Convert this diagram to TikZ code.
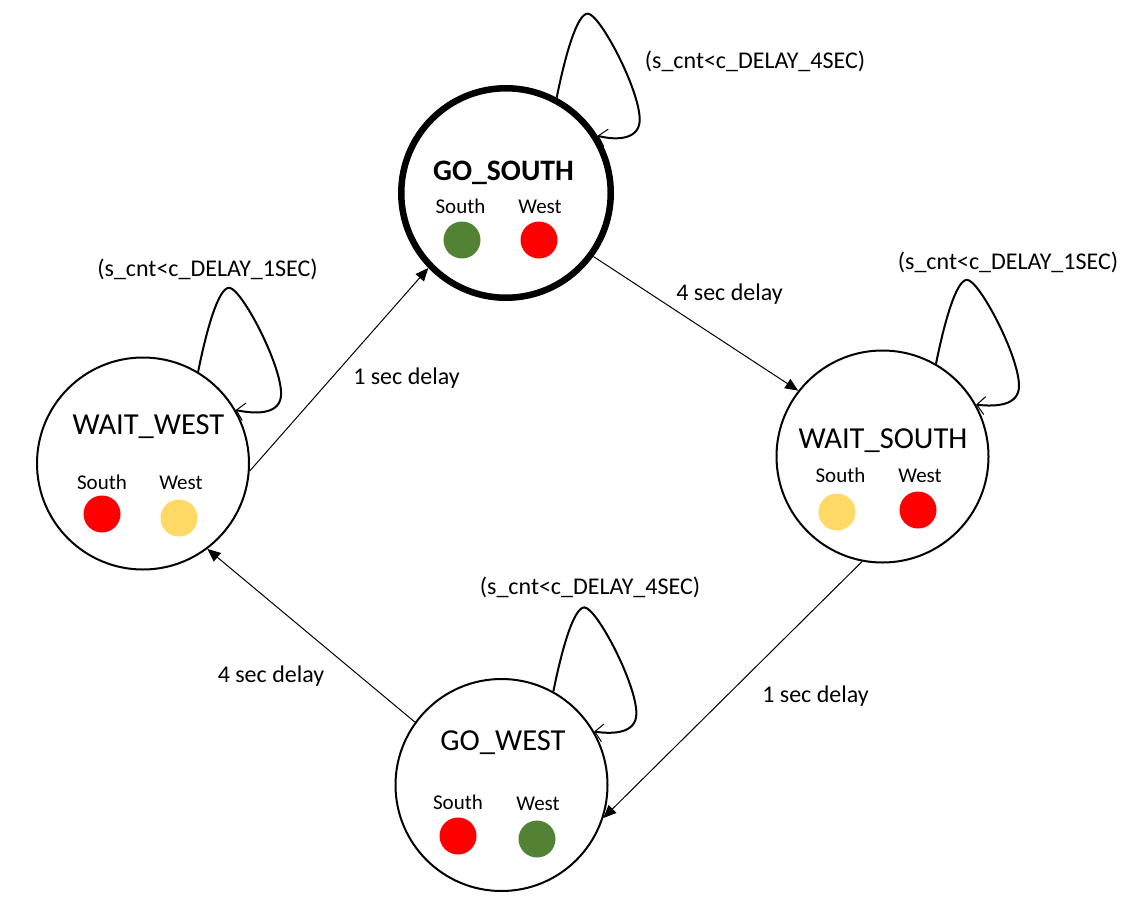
\documentclass[tikz,border=0pt]{standalone}
\usepackage{fontspec}
\setmainfont{Carlito}
\usetikzlibrary{arrows.meta,calc}

\definecolor{goGreen}{HTML}{548235}
\definecolor{stopRed}{HTML}{FF0000}
\definecolor{waitAmber}{HTML}{FFD966}

\tikzset{
  state/.style={circle, draw, line width=2pt, minimum size=212pt, inner sep=0pt},
  startstate/.style={state, line width=6.5pt, minimum size=209.5pt},
  stitle/.style={font=\fontsize{30.5}{36}\selectfont, inner sep=0pt, anchor=base},
  sboldtitle/.style={font=\fontsize{29.7}{35}\selectfont\bfseries, inner sep=0pt, anchor=base},
  lamplabel/.style={font=\fontsize{21}{25}\selectfont, inner sep=0pt, anchor=base},
  lamp/.style={circle, minimum size=37pt, inner sep=0pt, fill=#1},
  trans/.style={line width=1pt, -{Triangle[length=13pt,width=11pt]}},
  hold/.style={line width=2pt, -{Straight Barb[length=8pt,width=18pt,line width=1pt]}},
  translabel/.style={font=\fontsize{24}{29}\selectfont, inner sep=0pt, anchor=base},
}

% self transition: leaves the state at angle #2, returns at angle #3
\newcommand\holdloop[3]{%
  \draw[hold] (#1.#2)
    .. controls ($(#1.#2)+(8,-40)$) and ($(#1.#2)+(20,-84)$) .. ($(#1.#2)+(31,-84)$)
    .. controls ($(#1.#2)+(43,-84)$) and ($(#1.#2)+(83,-8)$) .. ($(#1.#2)+(83,22)$)
    .. controls ($(#1.#2)+(83,42)$) and ($(#1.#2)+(60,43)$) .. (#1.#3);}

\begin{document}
\begin{tikzpicture}[x=1pt, y=-1pt]
  \useasboundingbox (0,0) rectangle (1131,905);

  % states
  \node[startstate] (gs) at (506,193) {};
  \node[state] (ww) at (143,463.5) {};
  \node[state] (ws) at (882.5,456.5) {};
  \node[state] (gw) at (501.5,785) {};

  % GO_SOUTH contents
  \node[sboldtitle] (gsT) at (503.5,180) {GO\_SOUTH};
  \node[lamplabel] (gsS) at (460.5,213) {South};
  \node[lamplabel] (gsW) at (540,213) {West};
  \node[lamp=goGreen] (gsSL) at (462,240) {};
  \node[lamp=stopRed] (gsWL) at (539,240) {};

  % WAIT_WEST contents
  \node[stitle] (wwT) at (148.5,434) {WAIT\_WEST};
  \node[lamplabel] (wwS) at (102,489) {South};
  \node[lamplabel] (wwW) at (181,489) {West};
  \node[lamp=stopRed] (wwSL) at (102,514) {};
  \node[lamp=waitAmber] (wwWL) at (179,518) {};

  % WAIT_SOUTH contents
  \node[stitle] (wsT) at (883,448) {WAIT\_SOUTH};
  \node[lamplabel] (wsS) at (840.5,482) {South};
  \node[lamplabel] (wsW) at (920,482) {West};
  \node[lamp=waitAmber] (wsSL) at (837,512) {};
  \node[lamp=stopRed] (wsWL) at (918,510) {};

  % GO_WEST contents
  \node[stitle] (gwT) at (503,750) {GO\_WEST};
  \node[lamplabel] (gwS) at (458,809) {South};
  \node[lamplabel] (gwW) at (538,810) {West};
  \node[lamp=stopRed] (gwSL) at (458,836) {};
  \node[lamp=goGreen] (gwWL) at (537,839) {};

  % transitions between states
  \draw[trans] (ww.-4.5) -- (gs.224);
  \draw[trans] (gs.-36) -- (ws.142);
  \draw[trans] (ws.-101) -- (gw.-18.5);
  \draw[trans] (gw.144) -- (ww.-53.4);

  \node[translabel] (l1) at (406.5,384) {1 sec delay};
  \node[translabel] (l2) at (729.5,300) {4 sec delay};
  \node[translabel] (l3) at (815.5,702) {1 sec delay};
  \node[translabel] (l4) at (271,682) {4 sec delay};

  % self transitions
  \holdloop{gs}{62}{32}
  \holdloop{ww}{59}{30}
  \holdloop{ws}{60}{29}
  \holdloop{gw}{61}{30}

  \node[translabel] (h1) at (755,68) {(s\_cnt<c\_DELAY\_4SEC)};
  \node[translabel] (h2) at (207.5,276) {(s\_cnt<c\_DELAY\_1SEC)};
  \node[translabel] (h3) at (1008,269) {(s\_cnt<c\_DELAY\_1SEC)};
  \node[translabel] (h4) at (590,594) {(s\_cnt<c\_DELAY\_4SEC)};
\end{tikzpicture}
\end{document}
